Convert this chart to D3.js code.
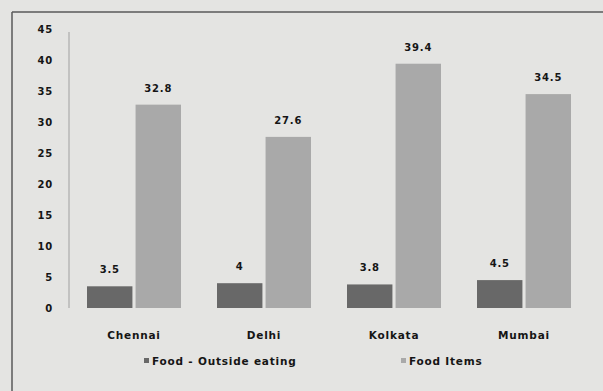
<!DOCTYPE html>
<html>
<head>
<meta charset="utf-8">
<script src="https://cdn.jsdelivr.net/npm/d3@7"></script>
<style>
  html, body { margin: 0; padding: 0; background: #e4e4e2; }
  svg { display: block; }
  text { font-family: "DejaVu Sans", sans-serif; font-weight: bold; fill: #151515; letter-spacing: 0.8px; }
</style>
</head>
<body>
<script>
// Monthly food spending by city
const cities = ["Chennai", "Delhi", "Kolkata", "Mumbai"];
const seriesNames = ["Food - Outside eating", "Food Items"];
const outsideEating = [3.5, 4, 3.8, 4.5];
const foodItems = [32.8, 27.6, 39.4, 34.5];
const yTicks = [0, 5, 10, 15, 20, 25, 30, 35, 40, 45];
const colors = ["#686868", "#a9a9a9"];

const W = 603, H = 391;
const svg = d3.select("body").append("svg").attr("width", W).attr("height", H);

// chart frame (top and left edges)
svg.append("rect").attr("x", 0).attr("y", 0).attr("width", W).attr("height", H).attr("fill", "#e4e4e2");
svg.append("line").attr("x1", 12).attr("x2", W).attr("y1", 12).attr("y2", 12)
  .attr("stroke", "#5a5a5a").attr("stroke-width", 1.5);
svg.append("line").attr("x1", 12).attr("x2", 12).attr("y1", 12).attr("y2", H)
  .attr("stroke", "#5a5a5a").attr("stroke-width", 1.5);

const plotLeft = 69, plotRight = 589, plotTop = 29, plotBottom = 308;

const x = d3.scaleBand().domain(cities).range([plotLeft, plotRight]).padding(0);
const xs = d3.scaleBand().domain([0, 1]).range([18, x.bandwidth() - 18]).paddingInner(0.065);
const y = d3.scaleLinear().domain([0, 45]).range([plotBottom, plotTop]);

function styleText(sel, size) {
  sel.attr("font-size", size).style("font-family", "'DejaVu Sans', sans-serif")
    .style("font-weight", "bold").style("letter-spacing", "0.8px").attr("fill", "#151515");
}

// y axis
const yAxis = d3.axisLeft(y).tickValues(yTicks).tickSize(0).tickPadding(16);
const gy = svg.append("g").attr("transform", `translate(${plotLeft},0)`).call(yAxis);
gy.select(".domain").attr("stroke", "#a0a0a0").attr("d", `M0,${plotTop + 3}V${plotBottom}`);
styleText(gy.selectAll("text"), 10);

// x axis labels
const xAxis = d3.axisBottom(x).tickSize(0).tickPadding(24);
const gx = svg.append("g").attr("transform", `translate(0,${plotBottom})`).call(xAxis);
gx.select(".domain").remove();
styleText(gx.selectAll("text"), 10.5);

const series = [outsideEating, foodItems];
series.forEach((vals, si) => {
  const g = svg.append("g");
  g.selectAll("rect").data(vals).join("rect")
    .attr("x", (d, i) => x(cities[i]) + xs(si))
    .attr("width", xs.bandwidth())
    .attr("y", d => y(d))
    .attr("height", d => y(0) - y(d))
    .attr("fill", colors[si]);
  g.selectAll("text").data(vals).join("text")
    .attr("x", (d, i) => x(cities[i]) + xs(si) + xs.bandwidth() / 2)
    .attr("y", d => y(d) - 13)
    .attr("text-anchor", "middle")
    .attr("font-size", 10)
    .text(d => d);
});

// legend
const legendX = [144, 401];
seriesNames.forEach((name, i) => {
  const lg = svg.append("g").attr("transform", `translate(${legendX[i]},361)`);
  lg.append("rect").attr("x", 0).attr("y", -3).attr("width", 5).attr("height", 5).attr("fill", colors[i]);
  lg.append("text").attr("x", 8).attr("y", 3.5).attr("font-size", 10.5).text(name);
});
</script>
</body>
</html>
